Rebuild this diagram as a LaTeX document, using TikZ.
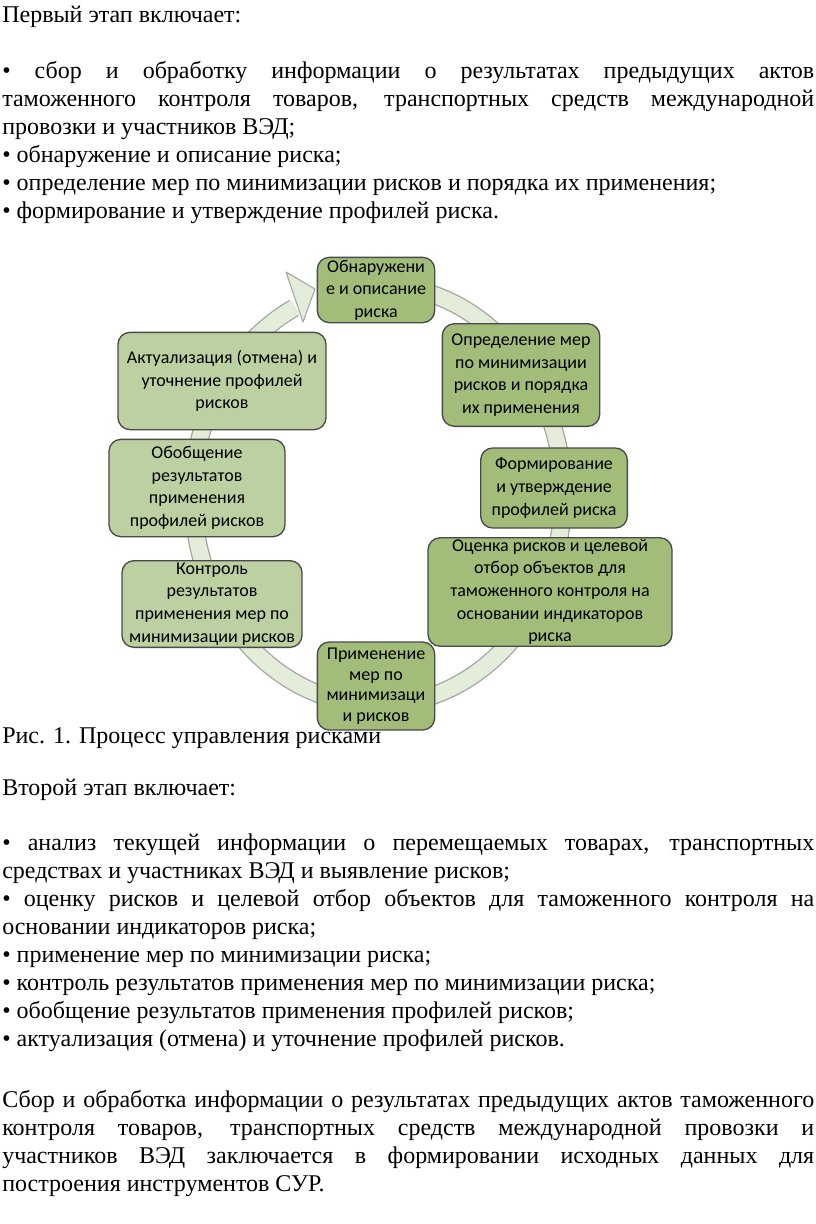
\documentclass[tikz,border=0pt]{standalone}
\usepackage{fontspec}
\setmainfont{Liberation Serif}
\newfontfamily\boxfont{Carlito}
\usetikzlibrary{positioning}
\definecolor{ringfill}{HTML}{E4ECDA}
\definecolor{ringline}{HTML}{A6A6A6}
\definecolor{stagedark}{HTML}{A2BC7A}
\definecolor{stagelight}{HTML}{BDD0A2}
\definecolor{stageline}{HTML}{4A4A4A}

\begin{document}
\begin{tikzpicture}[x=0.75pt, y=-0.75pt,
	txt/.style={anchor=north west, inner sep=0pt, text width=609pt, align=justify, font=\fontsize{18}{21}\selectfont},
	stage/.style={draw=stageline, line width=1pt, rounded corners=9pt, fill=stagedark, align=center, inner sep=1pt, font=\boxfont\fontsize{13.5}{17}\selectfont},
	stagelt/.style={stage, fill=stagelight}]
	\useasboundingbox (0,0) rectangle (816,1224);

	% text above the figure
	\node[txt] (head1) at (2,6) {Первый этап включает:};
	\node[txt] (list1) at (2,61) {\textbullet\ сбор и обработку информации о результатах предыдущих актов\linebreak таможенного контроля товаров, транспортных средств международной\linebreak провозки и участников ВЭД;\\
	\textbullet\ обнаружение и описание риска;\\
	\textbullet\ определение мер по минимизации рисков и порядка их применения;\\
	\textbullet\ формирование и утверждение профилей риска.};

	% ring with arrow
	\draw[ringline, line width=14pt] (378,495) ++(-80:185 and 210) arc[start angle=-80, end angle=243, x radius=185, y radius=210];
	\draw[ringfill, line width=12pt] (378,495) ++(-80:185 and 210) arc[start angle=-80, end angle=243.5, x radius=185, y radius=210];
	\filldraw[fill=ringfill, draw=ringline, line width=0.8pt, line join=round] (286,272) -- (315,289) -- (303,322) -- cycle;

	% stages
	\node[stage, minimum width=88pt, minimum height=49pt] (detect) at (376,290) {Обнаружени\\е и описание\\риска};
	\node[stage, minimum width=118pt, minimum height=77pt] (measure) at (521,375) {Определение мер\\по минимизации\\рисков и порядка\\их применения};
	\node[stage, minimum width=110pt, minimum height=60pt] (profile) at (554,488) {Формирование\\и утверждение\\профилей риска};
	\node[stage, minimum width=183pt, minimum height=77pt] (assess) at (550,592) {Оценка рисков и целевой\\отбор объектов для\\таможенного контроля на\\основании индикаторов\\риска};
	\node[stage, minimum width=88pt, minimum height=66pt, font=\boxfont\fontsize{13.5}{15.5}\selectfont] (apply) at (376,686) {Применение\\мер по\\минимизаци\\и рисков};
	\node[stagelt, minimum width=135pt, minimum height=65pt] (control) at (212,604) {Контроль\\результатов\\применения мер по\\минимизации рисков};
	\node[stagelt, minimum width=132pt, minimum height=73pt] (summary) at (197,488) {Обобщение\\результатов\\применения\\профилей рисков};
	\node[stagelt, minimum width=156pt, minimum height=73pt] (update) at (222,381) {Актуализация (отмена) и\\уточнение профилей\\рисков};

	% text below the figure
	\node[txt] (caption) at (2,727) {Рис. 1. Процесс управления рисками};
	\node[txt] (head2) at (2,779) {Второй этап включает:};
	\node[txt] (list2) at (2,834) {\textbullet\ анализ текущей информации о перемещаемых товарах, транспортных\linebreak средствах и участниках ВЭД и выявление рисков;\\
	\textbullet\ оценку рисков и целевой отбор объектов для таможенного контроля на\linebreak основании индикаторов риска;\\
	\textbullet\ применение мер по минимизации риска;\\
	\textbullet\ контроль результатов применения мер по минимизации риска;\\
	\textbullet\ обобщение результатов применения профилей рисков;\\
	\textbullet\ актуализация (отмена) и уточнение профилей рисков.};
	\node[txt] (final) at (2,1090) {Сбор и обработка информации о результатах предыдущих актов таможенного\linebreak контроля товаров, транспортных средств международной провозки и\linebreak участников ВЭД заключается в формировании исходных данных для\linebreak построения инструментов СУР.};
\end{tikzpicture}
\end{document}
